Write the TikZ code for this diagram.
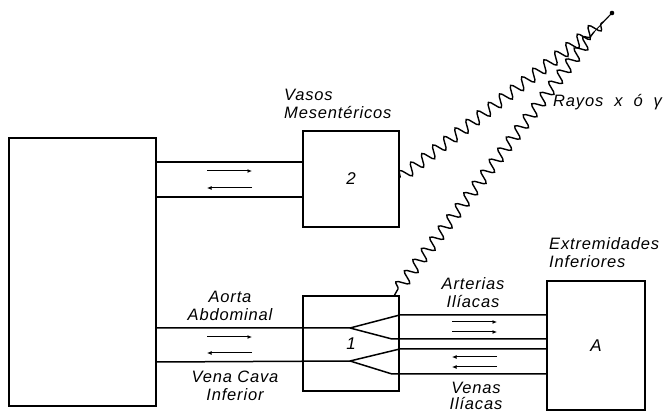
\documentclass[tikz,border=0pt]{standalone}
\usepackage{fontspec}
\setmainfont{Liberation Sans}[LetterSpace=5.0]
\usetikzlibrary{arrows.meta,decorations.pathmorphing,calc}
\tikzset{
  organ/.style={draw, line width=1.5pt, inner sep=0pt, font=\fontsize{17}{18}\selectfont\itshape},
  vessel/.style={line width=1.5pt},
  flow/.style={line width=1pt, -{Latex[length=4.5pt,width=4pt]}},
  lbl/.style={font=\fontsize{16.5}{18}\selectfont\itshape, inner sep=0pt, align=center},
  ray/.style={line width=1.4pt, decorate, decoration={snake, segment length=14pt, amplitude=6pt}},
}
\begin{document}
\begin{tikzpicture}[x=1pt,y=-1pt]
\useasboundingbox (0,0) rectangle (665,414);
% boxes
\node[organ, minimum width=147, minimum height=268] (body) at (82.5,272) {};
\node[organ, minimum width=96, minimum height=96] (b2) at (351,179) {2};
\node[organ, minimum width=96, minimum height=95] (b1) at (351,343.5) {1};
\node[organ, minimum width=98, minimum height=129] (bA) at (596,345.5) {A};
% mesenteric vessels
\draw[vessel] (body.east |- 0,162) -- (b2.west |- 0,162);
\draw[vessel] (body.east |- 0,197) -- (b2.west |- 0,197);
\draw[flow] (207,171) -- (252,171);
\draw[flow] (252,188) -- (207,188);
% aorta and vena cava
\coordinate (sa) at (350,328);
\coordinate (sv) at (350,361);
\draw[vessel] (body.east |- 0,328) -- (sa) -- (b1.east |- 0,315) -- (bA.west |- 0,315);
\draw[vessel] (sa) -- (392,339) -- (bA.west |- 0,339);
\draw[vessel] (body.east |- 0,362) -- (sv) -- (b1.east |- 0,349) -- (bA.west |- 0,349);
\draw[vessel] (sv) -- (392,374) -- (bA.west |- 0,374);
\draw[flow] (207,337) -- (252,337);
\draw[flow] (252,353) -- (207,353);
\draw[flow] (452,322) -- (497,322);
\draw[flow] (452,332) -- (497,332);
\draw[flow] (497,357) -- (452,357);
\draw[flow] (497,367) -- (452,367);
% labels
\node[lbl, anchor=west, align=left] (lv) at (284,104) {Vasos\\Mesentéricos};
\node[lbl] (la) at (230,306) {Aorta\\Abdominal};
\node[lbl] (lc) at (235,386) {Vena Cava\\Inferior};
\node[lbl] (lar) at (473,293) {Arterias\\Ilíacas};
\node[lbl, font=\fontsize{16.5}{16}\selectfont\itshape] (lve) at (476,396) {Venas\\Ilíacas};
\node[lbl, anchor=west, align=left] (le) at (549,253) {Extremidades\\Inferiores};
\node[lbl, anchor=west] (lr) at (553,102) {Rayos\hspace{11pt}x\hspace{11pt}ó\hspace{11pt}γ};
% rays
\coordinate (src) at (612,13);
\fill (src) circle (2.3pt);
\coordinate (r1) at (b2.east |- 0,178);
\coordinate (r1e) at (603,22);
\draw[ray] (r1) -- (r1e);
\draw[line width=0.8pt] (r1e) -- (src);
\coordinate (r2a) at (394,296);
\coordinate (r2) at (398,289);
\coordinate (r2e) at (594,32);
\draw[line width=1.4pt] (r2a) -- (r2);
\draw[ray] (r2) -- (r2e);
\draw[line width=0.8pt] (r2e) -- (src);
\end{tikzpicture}
\end{document}
